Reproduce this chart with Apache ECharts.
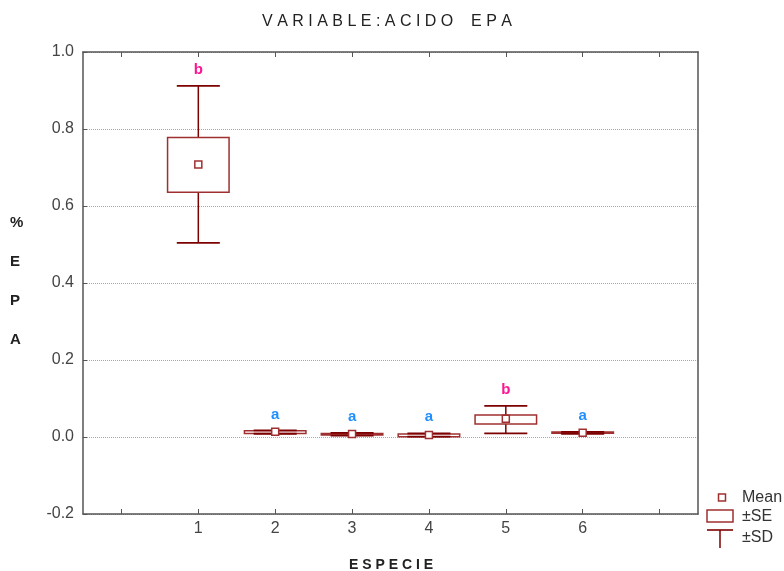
<!DOCTYPE html>
<html>
<head>
<meta charset="utf-8">
<script src="https://cdn.jsdelivr.net/npm/echarts@6/dist/echarts.min.js"></script>
<style>html,body{margin:0;padding:0;background:#fff;}#chart{width:784px;height:571px;}</style>
</head>
<body>
<div id="chart"></div>
<script>
// ---- data ----
const categories = ['1', '2', '3', '4', '5', '6'];
const means  = [0.708, 0.0138, 0.0078, 0.0050, 0.0475, 0.0110];
const seLow  = [0.636, 0.0092, 0.0050, 0.0008, 0.0340, 0.0095];
const seHigh = [0.778, 0.0160, 0.0090, 0.0078, 0.0570, 0.0128];
const sdLow  = [0.504, 0.0085, 0.0035, 0.0010, 0.0095, 0.0085];
const sdHigh = [0.912, 0.0170, 0.0105, 0.0095, 0.0810, 0.0135];
const groupLetters = ['b', 'a', 'a', 'a', 'b', 'a'];
const yTickValues = [-0.2, 0.0, 0.2, 0.4, 0.6, 0.8, 1.0];
const titleText = 'VARIABLE:ACIDO EPA';
const xName = 'ESPECIE';
const yName = '%EPA';

const spaced = s => s.split('').join(' ').replace(/   /g, '    ');
const axisCats = [''].concat(categories, ['']);
const letterColor = { a: '#1e8fff', b: '#ff1493' };
const whiskerColor = '#7d0000';
const boxColor = '#a03030';
const font = 'Liberation Sans, Arial, sans-serif';

const chart = echarts.init(document.getElementById('chart'), null, { renderer: 'canvas' });

const seriesData = categories.map((c, i) => [i + 1, means[i], seLow[i], seHigh[i], sdLow[i], sdHigh[i]]);

function renderItem(params, api) {
  const xi = api.value(0);
  const band = api.size([1, 0])[0];
  const cx = api.coord([xi, 0])[0];
  const Y = v => api.coord([xi, v])[1];
  const boxW = band * 0.8, capW = band * 0.56;
  const mean = api.value(1), sl = api.value(2), sh = api.value(3), dl = api.value(4), dh = api.value(5);
  const ms = 7;
  const L = groupLetters[params.dataIndex];
  return {
    type: 'group',
    children: [
      { type: 'line', shape: { x1: cx, y1: Y(dl), x2: cx, y2: Y(dh) }, style: { stroke: whiskerColor, lineWidth: 1.5 } },
      { type: 'rect', shape: { x: cx - boxW / 2, y: Y(sh), width: boxW, height: Math.max(Y(sl) - Y(sh), 1) },
        style: { fill: '#fff', stroke: boxColor, lineWidth: 1.5 } },
      { type: 'line', shape: { x1: cx - capW / 2, y1: Y(dh), x2: cx + capW / 2, y2: Y(dh) }, style: { stroke: whiskerColor, lineWidth: 1.8 } },
      { type: 'line', shape: { x1: cx - capW / 2, y1: Y(dl), x2: cx + capW / 2, y2: Y(dl) }, style: { stroke: whiskerColor, lineWidth: 1.8 } },
      { type: 'rect', shape: { x: cx - ms / 2, y: Y(mean) - ms / 2, width: ms, height: ms },
        style: { fill: '#fff', stroke: boxColor, lineWidth: 1.5 } },
      { type: 'text', x: cx, y: Y(dh) - 16,
        style: { text: L, fill: letterColor[L], font: 'bold 15px ' + font, align: 'center', verticalAlign: 'middle' } }
    ]
  };
}

const axisLineStyle = { show: true, onZero: false, lineStyle: { color: '#555', width: 1.5 } };

const option = {
  animation: false,
  backgroundColor: '#fff',
  title: {
    text: spaced(titleText), left: 382, textAlign: 'center', top: 9,
    textStyle: { fontSize: 16, fontWeight: 'normal', color: '#222', fontFamily: font }
  },
  grid: { left: 83, right: 86, top: 52, bottom: 57, containLabel: false },
  xAxis: [
    {
      type: 'category', data: axisCats, boundaryGap: true, position: 'bottom',
      axisLine: axisLineStyle,
      axisTick: { show: true, alignWithLabel: true, inside: true, length: 5, lineStyle: { color: '#555' } },
      axisLabel: { show: true, color: '#444', fontSize: 16, fontFamily: font, margin: 7, interval: 0 },
      splitLine: { show: false }
    },
    {
      type: 'category', data: axisCats, boundaryGap: true, position: 'top',
      axisLine: axisLineStyle,
      axisTick: { show: true, alignWithLabel: true, inside: true, length: 5, lineStyle: { color: '#555' } },
      axisLabel: { show: false }, splitLine: { show: false }
    }
  ],
  yAxis: [
    {
      type: 'value', min: yTickValues[0], max: yTickValues[yTickValues.length - 1], interval: 0.2,
      axisLine: axisLineStyle,
      axisTick: { show: true, inside: true, length: 4, lineStyle: { color: '#555' } },
      axisLabel: { color: '#444', fontSize: 16, fontFamily: font, margin: 9, formatter: v => v.toFixed(1) },
      splitLine: { show: true, lineStyle: { color: '#aaa', type: 'dotted', width: 1 } }
    },
    {
      type: 'value', min: yTickValues[0], max: yTickValues[yTickValues.length - 1], interval: 0.2, position: 'right',
      axisLine: axisLineStyle,
      axisTick: { show: false },
      axisLabel: { show: false }, splitLine: { show: false }
    }
  ],
  series: [{
    type: 'custom', xAxisIndex: 0, yAxisIndex: 0,
    renderItem: renderItem,
    encode: { x: 0, y: [1, 2, 3, 4, 5] },
    data: seriesData,
    clip: false, z: 5
  }],
  graphic: [
    { type: 'text', left: 10, top: 203,
      style: { text: yName.split('').join('\n'), font: 'bold 15px ' + font, fill: '#222', lineHeight: 39, align: 'center' } },
    { type: 'text', x: 391, y: 565,
      style: { text: spaced(xName), font: 'bold 14px ' + font, fill: '#222', align: 'center', verticalAlign: 'middle' } },
    // legend
    { type: 'rect', shape: { x: 718.5, y: 494, width: 7, height: 7 }, style: { fill: '#fff', stroke: boxColor, lineWidth: 1.5 } },
    { type: 'text', x: 742, y: 498, style: { text: 'Mean', font: '16px ' + font, fill: '#333', verticalAlign: 'middle' } },
    { type: 'rect', shape: { x: 707, y: 510, width: 26, height: 12 }, style: { fill: '#fff', stroke: boxColor, lineWidth: 1.5 } },
    { type: 'text', x: 742, y: 517, style: { text: '±SE', font: '16px ' + font, fill: '#333', verticalAlign: 'middle' } },
    { type: 'line', shape: { x1: 707, y1: 530, x2: 733, y2: 530 }, style: { stroke: whiskerColor, lineWidth: 1.6 } },
    { type: 'line', shape: { x1: 720, y1: 530, x2: 720, y2: 548 }, style: { stroke: whiskerColor, lineWidth: 1.5 } },
    { type: 'text', x: 742, y: 538, style: { text: '±SD', font: '16px ' + font, fill: '#333', verticalAlign: 'middle' } }
  ]
};
chart.setOption(option);
</script>
</body>
</html>
